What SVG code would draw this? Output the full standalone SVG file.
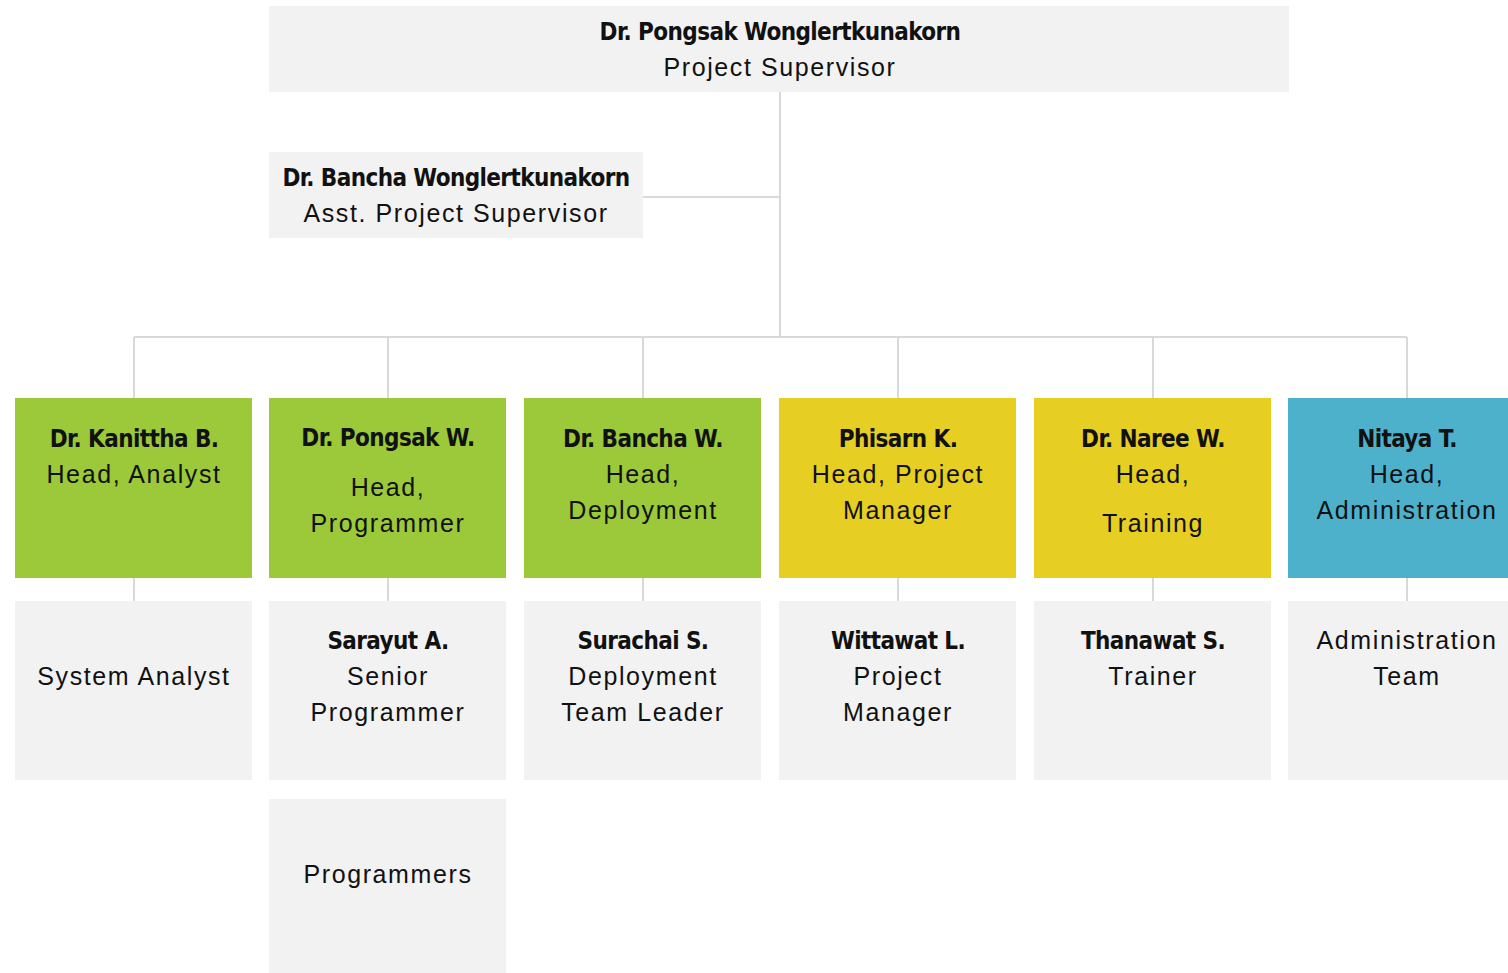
<svg xmlns="http://www.w3.org/2000/svg" width="1508" height="973" viewBox="0 0 1508 973">
<style>
.grey{fill:#f2f2f2}
.green{fill:#9bc93a}
.yellow{fill:#e6cf22}
.blue{fill:#4db1cc}
.conn{stroke:#d9d9d9;stroke-width:2;fill:none}
text{text-anchor:middle;fill:#111}
.b{font-family:"Liberation Sans Narrow","DejaVu Sans Condensed","Liberation Sans",sans-serif;font-weight:bold;font-size:24px;letter-spacing:-0.6px}
.r{font-family:"Liberation Sans",Arial,sans-serif;font-size:25px;letter-spacing:1.6px}
</style>
<rect width="1508" height="973" fill="#ffffff"/>
<g id="connectors">
<path class="conn" d="M780 91V337M643 197H780M134 337H1407M134 337V398M388 337V398M643 337V398M898 337V398M1153 337V398M1407 337V398"/>
<path class="conn" d="M134 578V601M388 578V601M643 578V601M898 578V601M1153 578V601M1407 578V601"/>
</g>
<g id="supervisor">
<rect class="grey" x="269" y="6" width="1020" height="86"/>
<text class="b" x="780" y="40">Dr. Pongsak Wonglertkunakorn</text>
<text class="r" x="780" y="76">Project Supervisor</text>
</g>
<g id="asst-supervisor">
<rect class="grey" x="269" y="152" width="374" height="86"/>
<text class="b" x="456" y="186">Dr. Bancha Wonglertkunakorn</text>
<text class="r" x="456" y="222">Asst. Project Supervisor</text>
</g>
<g id="head-analyst">
<rect class="green" x="15" y="398" width="237" height="180"/>
<text class="b" x="134" y="447">Dr. Kanittha B.</text>
<text class="r" x="134" y="483">Head, Analyst</text>
</g>
<g id="head-programmer">
<rect class="green" x="269" y="398" width="237" height="180"/>
<text class="b" x="388" y="446">Dr. Pongsak W.</text>
<text class="r" x="388" y="496">Head,</text>
<text class="r" x="388" y="532">Programmer</text>
</g>
<g id="head-deployment">
<rect class="green" x="524" y="398" width="237" height="180"/>
<text class="b" x="643" y="447">Dr. Bancha W.</text>
<text class="r" x="643" y="483">Head,</text>
<text class="r" x="643" y="519">Deployment</text>
</g>
<g id="head-pm">
<rect class="yellow" x="779" y="398" width="237" height="180"/>
<text class="b" x="898" y="447">Phisarn K.</text>
<text class="r" x="898" y="483">Head, Project</text>
<text class="r" x="898" y="519">Manager</text>
</g>
<g id="head-training">
<rect class="yellow" x="1034" y="398" width="237" height="180"/>
<text class="b" x="1153" y="447">Dr. Naree W.</text>
<text class="r" x="1153" y="483">Head,</text>
<text class="r" x="1153" y="532">Training</text>
</g>
<g id="head-admin">
<rect class="blue" x="1288" y="398" width="237" height="180"/>
<text class="b" x="1407" y="447">Nitaya T.</text>
<text class="r" x="1407" y="483">Head,</text>
<text class="r" x="1407" y="519">Administration</text>
</g>
<g id="system-analyst">
<rect class="grey" x="15" y="601" width="237" height="179"/>
<text class="r" x="134" y="685">System Analyst</text>
</g>
<g id="senior-programmer">
<rect class="grey" x="269" y="601" width="237" height="179"/>
<text class="b" x="388" y="649">Sarayut A.</text>
<text class="r" x="388" y="685">Senior</text>
<text class="r" x="388" y="721">Programmer</text>
</g>
<g id="deployment-leader">
<rect class="grey" x="524" y="601" width="237" height="179"/>
<text class="b" x="643" y="649">Surachai S.</text>
<text class="r" x="643" y="685">Deployment</text>
<text class="r" x="643" y="721">Team Leader</text>
</g>
<g id="project-manager">
<rect class="grey" x="779" y="601" width="237" height="179"/>
<text class="b" x="898" y="649">Wittawat L.</text>
<text class="r" x="898" y="685">Project</text>
<text class="r" x="898" y="721">Manager</text>
</g>
<g id="trainer">
<rect class="grey" x="1034" y="601" width="237" height="179"/>
<text class="b" x="1153" y="649">Thanawat S.</text>
<text class="r" x="1153" y="685">Trainer</text>
</g>
<g id="admin-team">
<rect class="grey" x="1288" y="601" width="237" height="179"/>
<text class="r" x="1407" y="649">Administration</text>
<text class="r" x="1407" y="685">Team</text>
</g>
<g id="programmers">
<rect class="grey" x="269" y="799" width="237" height="174"/>
<text class="r" x="388" y="883">Programmers</text>
</g>
</svg>
